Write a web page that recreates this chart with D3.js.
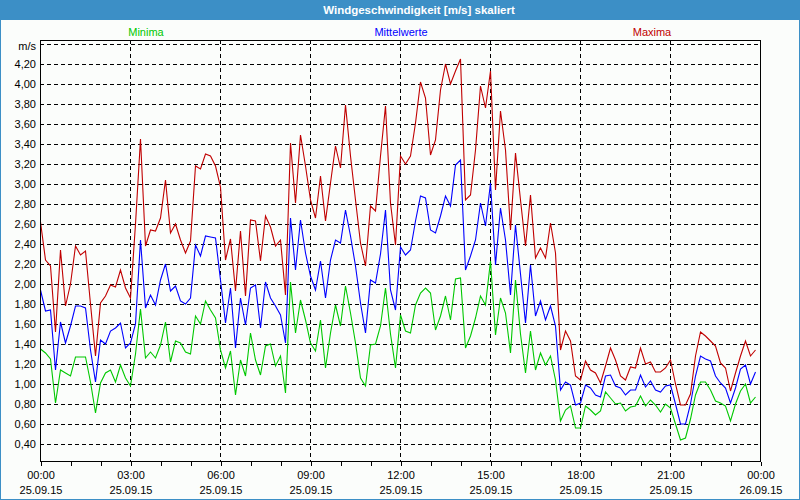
<!DOCTYPE html>
<html>
<head>
<meta charset="utf-8">
<script src="https://cdn.jsdelivr.net/npm/d3@7"></script>
<style>
  html, body { margin: 0; padding: 0; background: #fbfdfb; }
  svg { display: block; font-family: "Liberation Sans", Arial, sans-serif; }
</style>
</head>
<body>
<svg id="chart" width="800" height="500"></svg>
<script>
// ---- data ----
const chartTitle = "Windgeschwindigkeit [m/s] skaliert";
const seriesNames = ["Minima", "Mittelwerte", "Maxima"];
const startTime = Date.UTC(2015, 8, 25, 0, 0);   // 25.09.15 00:00
const endTime = Date.UTC(2015, 8, 26, 0, 0);     // 26.09.15 00:00
const stepMinutes = 10;

const maxima = [
  2.62,2.24,2.18,1.52,2.34,1.78,2.00,2.38,2.29,2.33,1.80,1.28,1.81,1.88,1.99,1.97,2.14,1.96,
  1.86,2.60,3.45,2.38,2.54,2.53,2.66,3.04,2.51,2.60,2.44,2.31,2.43,3.18,3.15,3.30,3.28,3.18,
  2.97,2.24,2.45,1.93,2.53,1.88,2.64,2.63,2.23,2.68,2.57,2.38,2.44,1.89,3.41,2.81,3.49,3.18,
  2.84,2.66,3.08,2.63,3.01,3.38,3.16,3.79,3.28,2.84,2.41,2.18,2.78,2.73,3.28,3.78,2.81,2.39,
  3.28,3.20,3.28,3.61,4.02,3.86,3.29,3.44,3.94,4.20,4.00,4.13,4.25,2.84,2.89,3.34,3.98,3.76,
  4.13,2.94,3.73,3.34,2.54,3.31,2.84,2.38,2.89,2.26,2.36,2.26,2.61,2.31,1.34,1.53,1.43,1.08,
  1.04,1.23,1.14,1.11,1.01,1.18,1.36,1.24,1.08,1.04,1.17,1.16,1.36,1.20,1.22,1.12,1.12,1.16,
  1.24,1.00,0.79,0.79,0.90,1.28,1.52,1.48,1.43,1.38,1.21,1.16,0.93,1.11,1.28,1.43,1.28,1.34
];
const mittelwerte = [
  1.94,1.73,1.74,1.14,1.62,1.41,1.58,1.78,1.78,1.76,1.34,1.02,1.44,1.40,1.53,1.56,1.61,1.36,
  1.41,1.60,2.44,1.76,1.89,1.79,2.04,2.20,1.93,1.98,1.83,1.80,1.86,2.39,2.28,2.48,2.47,2.46,
  2.04,1.61,1.96,1.36,1.86,1.59,1.96,1.99,1.56,2.02,1.86,1.78,1.69,1.41,2.66,2.14,2.64,2.31,
  2.08,1.94,2.23,1.86,2.24,2.44,2.41,2.74,2.48,2.18,1.81,1.51,2.04,2.01,2.30,2.74,1.94,1.74,
  2.37,2.29,2.34,2.63,2.88,2.86,2.54,2.51,2.68,2.88,2.78,3.19,3.24,2.14,2.28,2.44,2.81,2.58,
  3.01,2.19,2.76,2.44,1.89,2.59,2.10,1.61,2.19,1.68,1.83,1.64,1.78,1.58,0.94,1.02,0.99,0.79,
  0.81,0.99,0.96,0.89,0.87,1.08,1.09,0.98,0.96,0.89,0.94,0.94,1.09,0.97,1.03,0.94,0.92,0.98,
  0.99,0.80,0.60,0.60,0.80,1.08,1.28,1.25,1.23,1.08,1.01,0.96,0.81,0.96,1.15,1.19,1.00,1.12
];
const minima = [
  1.35,1.31,1.25,0.81,1.14,1.11,1.08,1.27,1.27,1.27,1.02,0.71,1.01,1.11,1.14,1.02,1.19,1.06,
  0.98,1.30,1.75,1.26,1.32,1.26,1.39,1.62,1.22,1.43,1.41,1.32,1.30,1.68,1.60,1.83,1.74,1.66,
  1.34,1.16,1.33,0.89,1.24,1.08,1.51,1.24,1.09,1.38,1.40,1.18,1.28,0.91,2.02,1.51,1.84,1.64,
  1.41,1.33,1.64,1.16,1.51,1.79,1.58,1.98,1.71,1.41,1.06,0.98,1.39,1.40,1.58,1.96,1.50,1.16,
  1.69,1.53,1.51,1.79,1.91,1.96,1.91,1.54,1.68,1.88,1.64,2.05,2.06,1.36,1.48,1.66,1.88,1.79,
  2.23,1.49,1.86,1.71,1.31,2.04,1.50,1.11,1.53,1.14,1.31,1.19,1.28,1.04,0.63,0.74,0.78,0.56,
  0.56,0.78,0.74,0.69,0.73,0.92,0.86,0.80,0.81,0.73,0.77,0.78,0.88,0.78,0.84,0.79,0.72,0.80,
  0.76,0.60,0.44,0.46,0.65,0.89,1.02,1.02,0.94,0.83,0.81,0.78,0.63,0.80,0.93,1.00,0.81,0.87
];
const yTickValues = [0.4,0.6,0.8,1.0,1.2,1.4,1.6,1.8,2.0,2.2,2.4,2.6,2.8,3.0,3.2,3.4,3.6,3.8,4.0,4.2];
const yGridTop = 4.4;
const yUnitLabel = "m/s";

// ---- layout ----
const W = 800, H = 500;
const plot = { left: 40, right: 760, top: 40, bottom: 461 };
const colors = { Minima: "#00c800", Mittelwerte: "#0000ff", Maxima: "#c00000" };
const legendX = { Minima: 146, Mittelwerte: 401, Maxima: 652 };

const svg = d3.select("#chart");

svg.append("rect").attr("x", 0).attr("y", 0).attr("width", W).attr("height", H)
  .attr("fill", "#fbfdfb");

// title bar
svg.append("rect").attr("x", 0).attr("y", 0).attr("width", W).attr("height", 20)
  .attr("fill", "#3c8fc6");
svg.append("text").attr("x", 419).attr("y", 14).attr("text-anchor", "middle")
  .attr("fill", "#ffffff").attr("font-weight", "bold").attr("font-size", "11.5px")
  .text(chartTitle);

// outer border
svg.append("rect").attr("x", 0.5).attr("y", 0.5).attr("width", W - 1).attr("height", H - 1)
  .attr("fill", "none").attr("stroke", "#3c8fc6");

// legend labels
seriesNames.forEach(n => {
  svg.append("text").attr("x", legendX[n]).attr("y", 36).attr("text-anchor", "middle")
    .attr("fill", colors[n]).attr("font-size", "11px").text(n);
});

const x = d3.scaleUtc().domain([startTime, endTime]).range([plot.left, plot.right]);
const y = d3.scaleLinear().domain([0.4, 4.4]).range([444, 44]);

const grid = svg.append("g").attr("shape-rendering", "crispEdges");

// horizontal dashed grid
const gridVals = yTickValues.concat([yGridTop]);
grid.selectAll("line.h").data(gridVals).join("line")
  .attr("x1", plot.left).attr("x2", plot.right)
  .attr("y1", d => Math.round(y(d)) + 0.5).attr("y2", d => Math.round(y(d)) + 0.5)
  .attr("stroke", "#000").attr("stroke-dasharray", "4,3");

// vertical dashed grid every 3 hours
const majorTicks = d3.utcHour.every(3).range(new Date(startTime), new Date(endTime + 1));
grid.selectAll("line.v").data(majorTicks.filter(d => +d > startTime && +d < endTime)).join("line")
  .attr("x1", d => Math.round(x(d)) + 0.5).attr("x2", d => Math.round(x(d)) + 0.5)
  .attr("y1", plot.top).attr("y2", plot.bottom)
  .attr("stroke", "#000").attr("stroke-dasharray", "4,3");

// y labels
svg.append("g").selectAll("text").data(yTickValues).join("text")
  .attr("x", 36).attr("y", d => y(d)).attr("dy", "0.35em")
  .attr("text-anchor", "end").attr("font-size", "11px").attr("fill", "#000")
  .text(d => d3.format(".2f")(d).replace(".", ","));
svg.append("text").attr("x", 36).attr("y", y(yGridTop) + 2).attr("dy", "0.35em")
  .attr("text-anchor", "end").attr("font-size", "11px").attr("fill", "#000").text(yUnitLabel);

// x axis with hourly ticks
const xAxis = d3.axisBottom(x)
  .tickValues(d3.utcHour.every(1).range(new Date(startTime), new Date(endTime + 1)))
  .tickSize(4).tickFormat("");
const ax = svg.append("g").attr("transform", `translate(0.5,${plot.bottom + 0.5})`)
  .attr("shape-rendering", "crispEdges").call(xAxis);
ax.select(".domain").remove();
ax.selectAll("line").attr("stroke", "#000");

// x labels every 3 hours
const fmtTime = d3.utcFormat("%H:%M");
const fmtDate = d3.utcFormat("%d.%m.%y");
const xl = svg.append("g");
xl.selectAll("text.t").data(majorTicks).join("text")
  .attr("x", d => x(d) + 1).attr("y", 479).attr("text-anchor", "middle")
  .attr("font-size", "11px").attr("fill", "#000").text(d => fmtTime(d));
xl.selectAll("text.d").data(majorTicks).join("text")
  .attr("x", d => x(d) + 1).attr("y", 494).attr("text-anchor", "middle")
  .attr("font-size", "11px").attr("fill", "#000").text(d => fmtDate(d));

// data lines
const seriesData = { Minima: minima, Mittelwerte: mittelwerte, Maxima: maxima };
const line = d3.line()
  .x((d, i) => x(startTime + i * stepMinutes * 60000) + 0.5)
  .y(d => y(d));
seriesNames.forEach(n => {
  svg.append("path").datum(seriesData[n])
    .attr("d", line).attr("fill", "none")
    .attr("stroke", colors[n]).attr("stroke-width", 1.1);
});

// plot frame
svg.append("path")
  .attr("d", `M${plot.left + 0.5},${plot.bottom + 0.5}V${plot.top + 0.5}H${plot.right + 0.5}V${plot.bottom + 0.5}`)
  .attr("fill", "none").attr("stroke", "#000").attr("stroke-width", 1)
  .attr("shape-rendering", "crispEdges");
svg.append("line").attr("x1", plot.left).attr("x2", plot.right + 1)
  .attr("y1", plot.bottom + 0.5).attr("y2", plot.bottom + 0.5)
  .attr("stroke", "#000").attr("shape-rendering", "crispEdges");
</script>
</body>
</html>
